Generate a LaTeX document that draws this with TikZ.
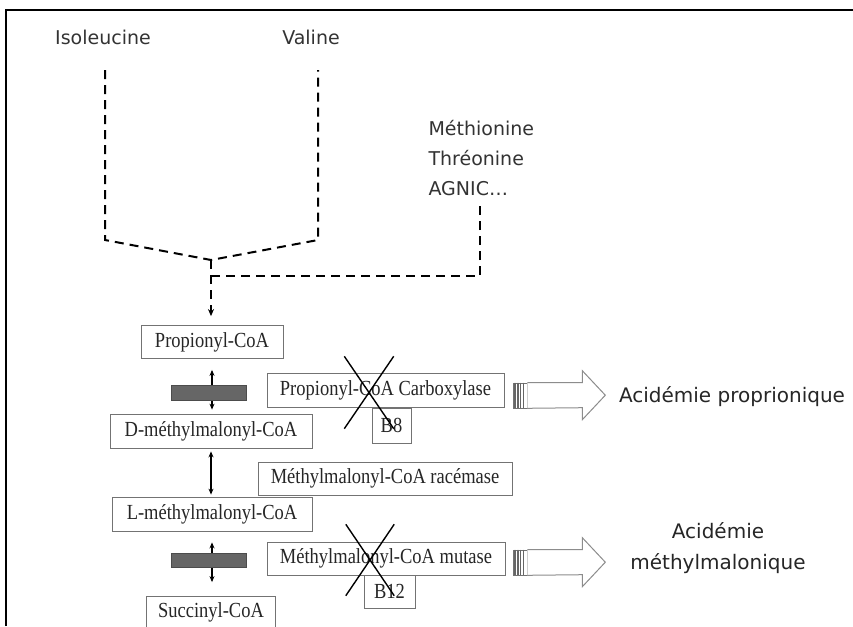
\documentclass[tikz,border=0pt]{standalone}
\usepackage{fontspec}
\setmainfont{Liberation Serif}[FakeStretch=0.86]
\newfontfamily\handfont{DejaVu Sans}
\usetikzlibrary{arrows.meta,shapes.misc}

\begin{document}
\begin{tikzpicture}[
        x=1pt, y=-1pt,
        metab/.style={draw=black!55, fill=white, line width=0.8pt, inner sep=0pt, text=black!85,
            font=\fontsize{21.5}{21.5}\selectfont},
        aa/.style={text=black!80, font=\handfont\fontsize{19}{30}\selectfont},
        disease/.style={text=black!85, font=\handfont\fontsize{20}{31}\selectfont},
        dashline/.style={draw, line width=2pt, dash pattern=on 9pt off 6pt},
        revers/.style={<->, >={Stealth[length=6pt,width=5pt]}, line width=1.2pt},
        block/.style={draw=black!70, fill=black!60, inner sep=0pt, minimum width=75pt, minimum height=15pt},
        blocked/.style={cross out, draw, line width=1.4pt, inner sep=0pt},
        striped/.style={draw=black!55, line width=0.6pt, inner sep=0pt, minimum width=14pt, minimum height=25pt},
        hollow/.style={draw=black!45, line width=1pt, fill=white, line join=miter},
    ]
    \useasboundingbox (0,0) rectangle (853,626);
    \draw[line width=2pt] (6,626) -- (6,10) -- (853,10);

    \node[aa] (iso) at (103,37) {Isoleucine};
    \node[aa] (val) at (311,37) {Valine};
    \node[aa, align=left, anchor=west] (others) at (425,158) {Méthionine\\Thréonine\\AGNIC…};

    \node[metab, minimum width=142pt, minimum height=33pt] (prop) at (212,342) {Propionyl-CoA};
    \node[metab, minimum width=202pt, minimum height=34pt] (dmet) at (211,431) {D-méthylmalonyl-CoA};
    \node[metab, minimum width=200pt, minimum height=34pt] (lmet) at (212,514) {L-méthylmalonyl-CoA};
    \node[metab, minimum width=129pt, minimum height=31pt] (succ) at (211,612) {Succinyl-CoA};
    \node[metab, minimum width=237pt, minimum height=34pt] (pcc) at (385.5,390) {Propionyl-CoA Carboxylase};
    \node[metab, minimum width=39pt, minimum height=35pt] (b8) at (391.5,425.5) {B8};
    \node[metab, minimum width=254pt, minimum height=33pt] (mcr) at (385,478.5) {Méthylmalonyl-CoA racémase};
    \node[metab, minimum width=238pt, minimum height=33pt] (mcm) at (386,558.5) {Méthylmalonyl-CoA mutase};
    \node[metab, minimum width=51pt, minimum height=33pt] (b12) at (389.5,591.5) {B12};

    \node[blocked, minimum width=48pt, minimum height=71pt] (x8) at (369,392.5) {};
    \node[blocked, minimum width=47pt, minimum height=70pt] (x12) at (370,560) {};

    \coordinate (isoTop) at (105,70);
    \coordinate (isoBend) at (105,240);
    \coordinate (valTop) at (318,70);
    \coordinate (valBend) at (318,240);
    \coordinate (join) at (211,260);
    \coordinate (branch) at (211,276);
    \coordinate (othBend) at (480,276);
    \coordinate (othTop) at (480,205);
    \draw[dashline] (isoTop) -- (isoBend) -- (join) -- (valBend) -- (valTop);
    \draw[dashline] (branch) -- (othBend) -- (othTop);
    \draw[dashline, -{Stealth[length=7pt,width=6pt]}, shorten >=9pt] (join) -- (join |- prop.north);

    \draw[revers, shorten <=11pt, shorten >=4pt] (prop.south) -- (prop.south |- dmet.north);
    \draw[revers, line width=1.8pt, shorten <=3pt, shorten >=2pt] (dmet.south) -- (dmet.south |- lmet.north);
    \draw[revers, shorten <=11pt, shorten >=14pt] (lmet.south) -- (lmet.south |- succ.north);
    \node[block] (bar1) at (208.5,392.5) {};
    \node[block, minimum height=14pt] (bar2) at (208.5,560) {};

    \node[striped] (tail1) at (520,395.5) {};
    \node[striped] (tail2) at (520,562.5) {};
    \foreach \t in {tail1,tail2} {
        \foreach \dx in {1.5,3,4.5,6,7.5,10.5}
            \draw[black!60, line width=0.6pt] ([xshift=\dx pt]\t.north west) -- ([xshift=\dx pt]\t.south west);
        \draw[hollow] (\t.north east) -- ++(55,0) -- ++(0,-12) -- ++(23,24.5) -- ++(-23,24.5) -- ++(0,-12) -- (\t.south east);
    }

    \node[disease] (pa) at (732,397) {Acidémie proprionique};
    \node[disease, align=center] (mma) at (718,548) {Acidémie\\méthylmalonique};
\end{tikzpicture}
\end{document}
